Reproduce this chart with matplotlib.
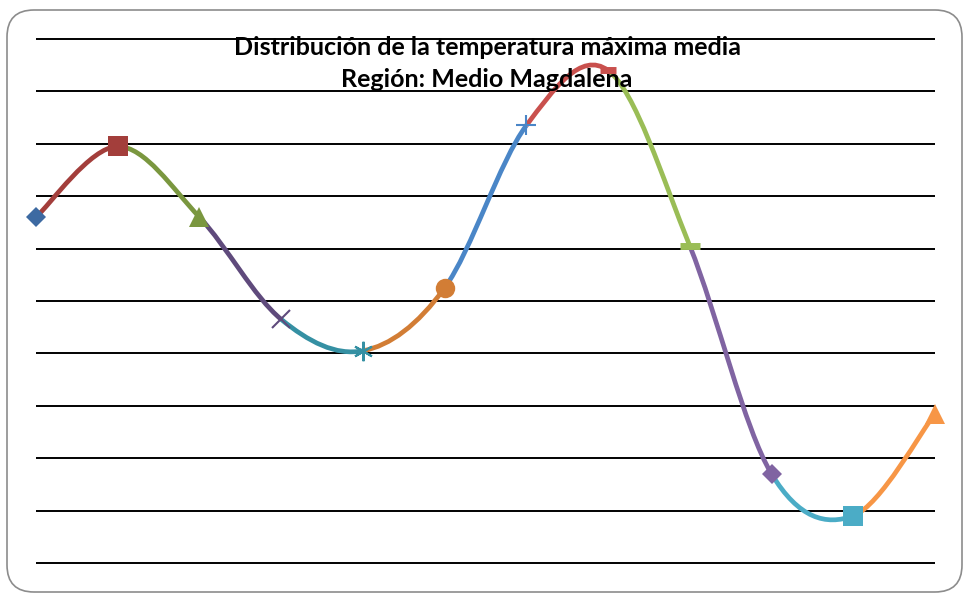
import numpy as np
import matplotlib.pyplot as plt
from matplotlib.path import Path
from matplotlib.patches import PathPatch, FancyBboxPatch

# Temperatura máxima media por mes
meses = np.arange(1, 13)
temp_max = [33.32, 33.59, 33.32, 32.93, 32.81, 33.05,
            33.67, 33.88, 33.21, 32.34, 32.18, 32.57]
y_ticks = np.arange(32.0, 34.01, 0.2)

colores = ['#3D6AA2', '#A33E3B', '#7A973F', '#5F4A7C', '#3590A3', '#D27D35',
           '#4A86C7', '#C9504D', '#9ABD56', '#8064A2', '#4BACC6', '#F79646']
marcadores = ['D', 's', '^', 'x', (6, 2, 0), 'o', '+', '_', '_', 'D', 's', '^']
tamanos = [10, 14, 14, 13, 14, 14, 14, 12, 14, 10, 14, 14]

titulo1 = "Distribución de la temperatura máxima media"
titulo2 = "Región: Medio Magdalena"

fig = plt.figure(figsize=(9.63, 5.93), dpi=100)
W, H = 963, 593
ax = fig.add_axes([36 / W, 1 - 563 / H, (935 - 36) / W, (563 - 39) / H])
ax.set_xlim(1, 12)
ax.set_ylim(32.0, 34.0)
for s in ax.spines.values():
    s.set_visible(False)
ax.set_xticks([])
ax.set_yticks([])

# lineas horizontales
ax.hlines(y_ticks, 1, 12, colors='black', lw=1.4, clip_on=False, zorder=1)

# curva suavizada tipo Excel (bezier), un tramo por punto
x = np.array(meses, dtype=float)
y = np.array(temp_max)
n = len(x)
for i in range(n - 1):
    i0 = max(i - 1, 0)
    i3 = min(i + 2, n - 1)
    p0 = np.array([x[i], y[i]])
    p1 = np.array([x[i + 1], y[i + 1]])
    c1 = p0 + (p1 - np.array([x[i0], y[i0]])) / 6
    c2 = p1 - (np.array([x[i3], y[i3]]) - p0) / 6
    path = Path([p0, c1, c2, p1], [Path.MOVETO, Path.CURVE4, Path.CURVE4, Path.CURVE4])
    ax.add_patch(PathPatch(path, facecolor='none', edgecolor=colores[i + 1],
                           lw=3.4, capstyle='butt', clip_on=False, zorder=2 + i * 0.01))

for i in range(n):
    m = marcadores[i]
    mew = 1.5 if m in ('x', '+') or isinstance(m, tuple) else (5 if m == '_' else 0)
    ax.plot(x[i], y[i], marker=m, ms=tamanos[i], color=colores[i],
            mec=colores[i], mew=mew, linestyle='none', clip_on=False, zorder=3)

# marco redondeado
borde = FancyBboxPatch((7 / 100, 1 / 100), (962 - 7) / 100, (592 - 10) / 100,
                       boxstyle="round,pad=0,rounding_size=0.27",
                       transform=fig.dpi_scale_trans, facecolor='none',
                       edgecolor='#8C8C8C', lw=1.2)
fig.patches.append(borde)

fig.text(487 / W, 1 - 55 / H, titulo1, ha='center', va='baseline',
         fontsize=18, fontweight='bold', family='Lato', zorder=10)
fig.text(487 / W, 1 - 87 / H, titulo2, ha='center', va='baseline',
         fontsize=18, fontweight='bold', family='Lato', zorder=10)

fig.savefig('out.png', dpi=100)
